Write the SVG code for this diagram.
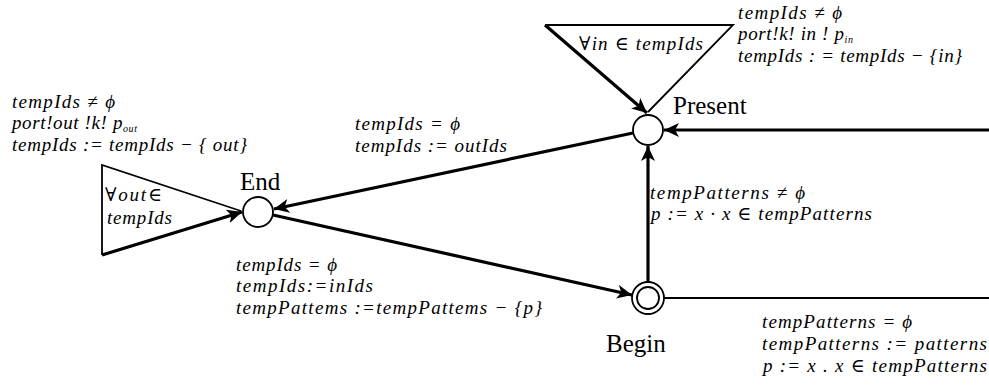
<svg xmlns="http://www.w3.org/2000/svg" width="989" height="386" viewBox="0 0 989 386">
<style>
.m{font-family:"Liberation Serif","Times New Roman","DejaVu Serif",serif;font-style:italic;font-size:19px;fill:#000}
.n{font-family:"Liberation Serif","Times New Roman","DejaVu Serif",serif;font-size:25px;fill:#000}
.sub{font-size:10px}
.thick{stroke:#000;stroke-width:3.2;fill:none}
.thin{stroke:#000;stroke-width:1.8;fill:none}
.st{fill:#fff;stroke:#000;stroke-width:1.8}
</style>
<defs>
<marker id="ah" markerUnits="userSpaceOnUse" markerWidth="18" markerHeight="14" refX="15" refY="7" orient="auto">
<path d="M0,0 L15,7 L0,14 L4,7 z" fill="#000"/>
</marker>
</defs>
<rect width="989" height="386" fill="#fff"/>
<g id="connectors">
<line class="thick" x1="989" y1="130" x2="664" y2="130" marker-end="url(#ah)"/>
<line class="thick" x1="648" y1="282" x2="648" y2="146" marker-end="url(#ah)"/>
<line class="thick" x1="633" y1="133" x2="274" y2="209" marker-end="url(#ah)"/>
<line class="thick" x1="273" y1="215" x2="632" y2="295" marker-end="url(#ah)"/>
<line class="thin" x1="664" y1="298" x2="989" y2="298"/>
</g>
<g id="loop-in">
<polyline class="thin" points="648,112 733,25 545,25"/>
<line class="thick" x1="545" y1="25" x2="647" y2="113" marker-end="url(#ah)"/>
<text class="m" x="579" y="50" textLength="124">∀in ∈ tempIds</text>
</g>
<g id="loop-out">
<polyline class="thin" points="241,211 102,165 102,255"/>
<line class="thick" x1="102" y1="255" x2="242" y2="212" marker-end="url(#ah)"/>
<text class="m" x="105" y="201" textLength="57">∀out∈</text>
<text class="m" x="107" y="224" textLength="65">tempIds</text>
</g>
<g id="present">
<circle class="st" cx="648" cy="130" r="15"/>
<text class="n" x="673" y="114">Present</text>
</g>
<g id="end">
<circle class="st" cx="258" cy="212" r="15"/>
<text class="n" x="240" y="190">End</text>
</g>
<g id="begin">
<circle class="st" cx="648" cy="298" r="16"/>
<circle class="st" cx="648" cy="298" r="11"/>
<text class="n" x="606" y="352">Begin</text>
</g>
<g id="labels">
<text class="m" x="738" y="19" textLength="104">tempIds ≠ ϕ</text>
<text class="m" x="738" y="40" textLength="115">port!k! in ! p<tspan class="sub" dy="3">in</tspan></text>
<text class="m" x="738" y="62" textLength="224">tempIds : = tempIds − {in}</text>
<text class="m" x="12" y="108" textLength="103">tempIds ≠ ϕ</text>
<text class="m" x="12" y="129" textLength="125">port!out !k! p<tspan class="sub" dy="3">out</tspan></text>
<text class="m" x="12" y="151" textLength="235">tempIds := tempIds − { out}</text>
<text class="m" x="355" y="130" textLength="105">tempIds = ϕ</text>
<text class="m" x="355" y="152" textLength="152">tempIds := outIds</text>
<text class="m" x="650" y="199" textLength="155">tempPatterns ≠ ϕ</text>
<text class="m" x="651" y="220" textLength="221">p := x · x ∈ tempPatterns</text>
<text class="m" x="236" y="271" textLength="101">tempIds = ϕ</text>
<text class="m" x="236" y="292" textLength="137">tempIds:=inIds</text>
<text class="m" x="236" y="314" textLength="306">tempPattems :=tempPattems − {p}</text>
<text class="m" x="762" y="328" textLength="150">tempPatterns = ϕ</text>
<text class="m" x="762" y="350" textLength="225">tempPatterns := patterns</text>
<text class="m" x="763" y="372" textLength="224">p := x . x ∈ tempPatterns</text>
</g>
</svg>
